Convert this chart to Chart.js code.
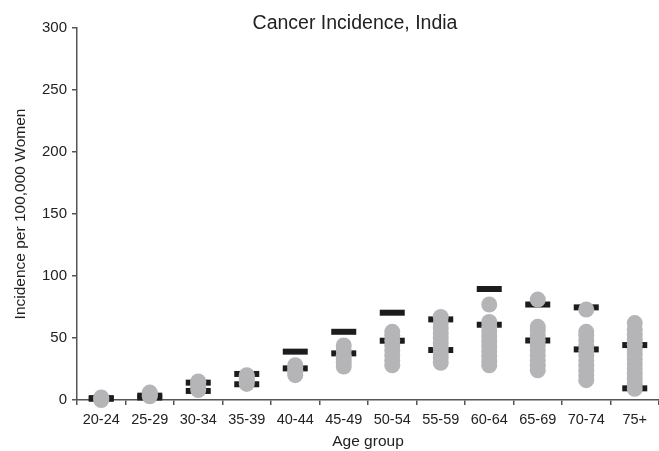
<!DOCTYPE html>
<html>
<head>
<meta charset="utf-8">
<script src="https://cdn.jsdelivr.net/npm/chart.js@4/dist/chart.umd.min.js"></script>
<style>
  html, body { margin: 0; padding: 0; background: #fff; overflow: hidden; }
  #wrap { width: 659px; height: 451px; position: relative; }
</style>
</head>
<body>
<div id="wrap"><canvas id="incidenceChart"></canvas></div>
<script>
// age groups along the x axis
const ageGroups = ['20-24', '25-29', '30-34', '35-39', '40-44', '45-49',
                   '50-54', '55-59', '60-64', '65-69', '70-74', '75+'];

// grey dots: registry rates per age group (per 100,000 women)
const registryRates = [
    [0, 1, 2],
    [3, 4, 5, 6],
    [8, 10, 12, 14, 15],
    [13, 15, 17, 19, 20],
    [20, 22, 24, 26, 28],
    [27, 30, 33, 36, 40, 44],
    [28, 32, 36, 40, 44, 48, 52, 55],
    [30, 34, 38, 42, 46, 50, 54, 58, 62, 67],
    [28, 31, 35, 39, 43, 47, 51, 55, 59, 63, 77],
    [24, 28, 32, 36, 40, 44, 48, 52, 56, 59, 81],
    [16, 20, 24, 28, 32, 36, 40, 44, 48, 52, 55, 73],
    [9, 13, 17, 21, 25, 29, 33, 37, 41, 45, 49, 53, 57, 62]
];

// black dashes
const upperMarks = [1.5, 3.5, 14, 21, 39, 55, 70.4, 65, 89.5, 77, 74.7, 44.3];
const lowerMarks = [1, 2, 7.3, 12.7, 25.5, 37.6, 47.8, 40.3, 60.7, 48, 40.8, 9.4];

const yTicks = [0, 50, 100, 150, 200, 250, 300];

const axisColor = '#555555';
const textColor = '#222222';
const fontFamily = '"Liberation Sans", Arial, sans-serif';

const dotPoints = [];
registryRates.forEach((rates, i) => {
    rates.forEach(v => dotPoints.push({ x: ageGroups[i], y: v }));
});
const markPoints = [];
ageGroups.forEach((g, i) => {
    markPoints.push({ x: g, y: upperMarks[i] });
    markPoints.push({ x: g, y: lowerMarks[i] });
});

// main title drawn a bit right of canvas centre, like the original
const titlePlugin = {
    id: 'plotTitle',
    afterDraw(chart) {
        const ctx = chart.ctx;
        ctx.save();
        ctx.fillStyle = textColor;
        ctx.font = '19.5px ' + fontFamily;
        ctx.textAlign = 'center';
        ctx.textBaseline = 'alphabetic';
        ctx.fillText('Cancer Incidence, India', 355, 29);
        ctx.restore();
    }
};

new Chart(document.getElementById('incidenceChart'), {
    type: 'line',
    data: {
        labels: ageGroups,
        datasets: [
            {
                label: 'Registries',
                data: dotPoints,
                showLine: false,
                pointRadius: 8,
                pointHoverRadius: 8,
                pointBorderWidth: 0,
                pointBackgroundColor: '#b5b5b7',
                pointBorderColor: '#b5b5b7',
                clip: false,
                order: 0
            },
            {
                label: 'Marks',
                data: markPoints,
                showLine: false,
                pointStyle: 'line',
                pointRadius: 12.5,
                pointHoverRadius: 12.5,
                pointBorderWidth: 6,
                pointBorderColor: '#1c1c1c',
                pointBackgroundColor: '#1c1c1c',
                clip: false,
                order: 1
            }
        ]
    },
    options: {
        responsive: true,
        maintainAspectRatio: false,
        animation: false,
        // big point radii would otherwise shrink the plot area
        layout: { autoPadding: false, padding: { top: 28, right: 0, bottom: 0, left: 0 } },
        plugins: {
            legend: { display: false },
            tooltip: { enabled: false },
            title: { display: false }
        },
        scales: {
            x: {
                type: 'category',
                offset: true,
                grid: {
                    offset: true,
                    drawOnChartArea: false,
                    drawTicks: true,
                    tickLength: 5,
                    color: axisColor,
                    lineWidth: 1.5
                },
                border: { display: true, color: axisColor, width: 1.5 },
                ticks: {
                    color: textColor,
                    font: { family: fontFamily, size: 14.5 },
                    padding: 6,
                    maxRotation: 0,
                    autoSkip: false
                },
                title: {
                    display: true,
                    text: 'Age group',
                    color: textColor,
                    font: { family: fontFamily, size: 15.5 },
                    padding: { top: 0, bottom: 0 }
                },
                afterFit(scale) {
                    scale.height = 51;
                    scale.paddingLeft = 0;
                    scale.paddingRight = 0;
                }
            },
            y: {
                min: 0,
                max: 300,
                afterBuildTicks(scale) { scale.ticks = yTicks.map(v => ({ value: v })); },
                grid: {
                    drawOnChartArea: false,
                    drawTicks: true,
                    tickLength: 5,
                    color: axisColor,
                    lineWidth: 1.5
                },
                border: { display: true, color: axisColor, width: 1.5 },
                ticks: {
                    color: textColor,
                    font: { family: fontFamily, size: 15 },
                    padding: 5
                },
                title: {
                    display: true,
                    text: 'Incidence per 100,000 Women',
                    color: textColor,
                    font: { family: fontFamily, size: 15.5 },
                    padding: { top: 11, bottom: 0 }
                },
                afterFit(scale) { scale.width = 77; }
            }
        }
    },
    plugins: [titlePlugin]
});
</script>
</body>
</html>
